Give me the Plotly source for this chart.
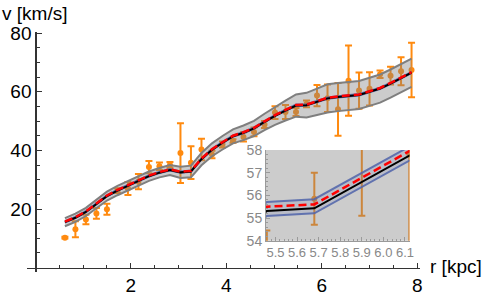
import plotly.graph_objects as go

# ---- data ----
r_kpc = [0.62, 0.84, 1.06, 1.28, 1.50, 1.72, 1.94, 2.16, 2.38, 2.60, 2.82, 3.04,
         3.26, 3.48, 3.70, 3.92, 4.14, 4.36, 4.58, 4.80, 5.02, 5.24, 5.46, 5.68,
         5.90, 6.12, 6.34, 6.56, 6.78, 7.00, 7.22, 7.44, 7.66, 7.88]

v_obs = [10.2, 13.1, 16.4, 18.5, 19.9, 26.3, 27.0, 29.3, 34.3, 34.6, 35.0, 39.1,
         35.8, 40.3, 38.6, 42.0, 43.2, 44.6, 46.3, 48.8, 52.9, 53.1, 53.1, 55.85,
         58.7, 57.8, 54.0, 63.8, 60.4, 61.0, 66.0, 65.5, 67.0, 67.4]

v_err = [0.3, 2.7, 1.6, 1.85, 1.9, 0.8, 2.2, 2.6, 2.1, 1.3, 1.0, 10.2,
         5.6, 3.7, 1.3, 1.0, 0.6, 1.6, 1.5, 1.2, 2.2, 2.4, 1.35, 1.15,
         3.6, 4.7, 9.0, 12.0, 6.2, 5.7, 1.3, 3.0, 4.8, 9.3]

# best-fit model (black)
v_model = [15.5, 17.0, 19.0, 21.8, 24.4, 26.3, 27.9, 29.7, 31.2, 32.4, 33.3, 32.5,
           32.8, 37.0, 40.2, 42.6, 44.8, 46.0, 47.5, 49.7, 51.8, 53.6, 55.31, 55.43,
           56.59, 57.75, 58.2, 58.5, 58.9, 60.0, 61.1, 62.8, 64.6, 66.5]

# second model (red dashed)
v_alt = [15.7, 17.2, 19.2, 22.0, 24.6, 26.5, 28.1, 29.9, 31.4, 32.6, 33.5, 32.7,
         33.0, 37.2, 40.4, 42.8, 45.0, 46.2, 47.7, 49.9, 52.0, 53.8, 55.50, 55.60,
         56.78, 57.95, 58.4, 58.7, 59.1, 60.2, 61.3, 63.0, 64.8, 66.7]

# narrow (blue) uncertainty band
v_blue_lo = [15.28, 16.78, 18.78, 21.58, 24.18, 26.08, 27.68, 29.48, 30.98, 32.18, 33.08, 32.28,
             32.58, 36.78, 39.98, 42.38, 44.58, 45.78, 47.28, 49.48, 51.58, 53.38, 55.09, 55.21,
             56.37, 57.53, 57.98, 58.28, 58.68, 59.78, 60.88, 62.58, 64.38, 66.28]
v_blue_hi = [15.9, 17.4, 19.4, 22.2, 24.8, 26.7, 28.3, 30.1, 31.6, 32.8, 33.7, 32.9,
             33.2, 37.4, 40.6, 43.0, 45.2, 46.4, 47.9, 50.1, 52.2, 54.0, 55.71, 55.83,
             56.99, 58.15, 58.6, 58.9, 59.3, 60.4, 61.5, 63.2, 65.0, 66.9]

# wide (gray) band half-width
v_gray_half = [1.4, 1.4, 1.4, 1.4, 1.5, 1.6, 1.6, 1.6, 1.6, 1.6, 1.7, 1.9,
               2.0, 2.1, 2.2, 2.3, 2.4, 2.5, 2.6, 2.8, 3.1, 3.4, 3.8, 4.2,
               4.5, 4.8, 4.8, 4.8, 4.8, 4.8, 4.8, 4.8, 4.8, 4.8]

x_ticks = [2, 4, 6, 8]
y_ticks = [20, 40, 60, 80]
x_label = "r [kpc]"
y_label = "v [km/s]"

ORANGE = "#ff8a0f"
FONT = "Liberation Sans"

gray_lo = [m - h for m, h in zip(v_model, v_gray_half)]
gray_hi = [m + h for m, h in zip(v_model, v_gray_half)]

fig = go.Figure()


def add_set(xa, ya, lw):
    fig.add_trace(go.Scatter(
        x=r_kpc, y=v_obs, mode="markers", xaxis=xa, yaxis=ya,
        marker=dict(color=ORANGE, size=6),
        error_y=dict(type="data", array=v_err, color=ORANGE, thickness=2, width=3.5),
        showlegend=False, hoverinfo="skip"))
    fig.add_trace(go.Scatter(
        x=r_kpc, y=gray_hi, mode="lines", xaxis=xa, yaxis=ya,
        line=dict(color="#7f7f7f", width=2), showlegend=False, hoverinfo="skip"))
    fig.add_trace(go.Scatter(
        x=r_kpc, y=gray_lo, mode="lines", xaxis=xa, yaxis=ya,
        line=dict(color="#7f7f7f", width=2), fill="tonexty",
        fillcolor="rgba(128,128,128,0.40)", showlegend=False, hoverinfo="skip"))
    fig.add_trace(go.Scatter(
        x=r_kpc, y=v_blue_hi, mode="lines", xaxis=xa, yaxis=ya,
        line=dict(color="rgba(80,100,170,0.85)", width=lw), showlegend=False, hoverinfo="skip"))
    fig.add_trace(go.Scatter(
        x=r_kpc, y=v_blue_lo, mode="lines", xaxis=xa, yaxis=ya,
        line=dict(color="rgba(80,100,170,0.85)", width=lw), fill="tonexty",
        fillcolor="rgba(90,110,180,0.15)", showlegend=False, hoverinfo="skip"))
    fig.add_trace(go.Scatter(
        x=r_kpc, y=v_model, mode="lines", xaxis=xa, yaxis=ya,
        line=dict(color="black", width=2), showlegend=False, hoverinfo="skip"))
    fig.add_trace(go.Scatter(
        x=r_kpc, y=v_alt, mode="lines", xaxis=xa, yaxis=ya,
        line=dict(color="#ff0000", width=2.5, dash="8px,4px"), showlegend=False, hoverinfo="skip"))


add_set("x", "y", 1.5)
add_set("x2", "y2", 2)

xr = [-0.174, 8.057]
yr = [-1.5, 80.4]
AX = "#333333"

fig.update_layout(
    template="none",
    width=485, height=296,
    margin=dict(l=27, r=65, t=32, b=24, autoexpand=False),
    paper_bgcolor="white", plot_bgcolor="white",
    font=dict(family=FONT, size=19, color="black"),
    hovermode=False,
    xaxis=dict(domain=[0, 1], range=xr, anchor="free", automargin=False,
               position=(0 - yr[0]) / (yr[1] - yr[0]),
               showline=True, linecolor=AX, linewidth=1.3,
               ticks="inside", ticklen=5, tickwidth=1, tickcolor=AX,
               tickmode="array", tickvals=x_ticks,
               minor=dict(tickmode="array",
                          tickvals=[0.5, 1, 1.5, 2.5, 3, 3.5, 4.5, 5, 5.5, 6.5, 7, 7.5],
                          ticks="inside", ticklen=3, tickcolor=AX, showgrid=False),
               showgrid=False, zeroline=False, tickfont=dict(size=19)),
    yaxis=dict(domain=[0, 1], range=yr, anchor="free", automargin=False,
               position=(0 - xr[0]) / (xr[1] - xr[0]),
               showline=True, linecolor=AX, linewidth=1.3,
               ticks="inside", ticklen=5, tickwidth=1, tickcolor=AX,
               tickmode="array", tickvals=y_ticks,
               minor=dict(tickmode="array",
                          tickvals=[5, 10, 15, 25, 30, 35, 45, 50, 55, 65, 70, 75],
                          ticks="inside", ticklen=3, tickcolor=AX, showgrid=False),
               showgrid=False, zeroline=False, tickfont=dict(size=19)),
    xaxis2=dict(domain=[0.6081, 0.9733], anchor="y2", range=[5.456, 6.121],
                automargin=False, tickangle=0,
                showline=True, linecolor="#9a9a9a", linewidth=1,
                ticks="inside", ticklen=4, tickcolor="#9a9a9a",
                tickmode="linear", tick0=5.5, dtick=0.1, tickformat=".1f",
                minor=dict(tickmode="linear", tick0=5.5, dtick=0.02, ticks="inside",
                           ticklen=2, tickcolor="#9a9a9a", showgrid=False),
                showgrid=False, zeroline=False,
                tickfont=dict(size=13, color="#888888")),
    yaxis2=dict(domain=[0.1304, 0.5083], anchor="x2", range=[54, 58],
                automargin=False,
                showline=True, linecolor="#9a9a9a", linewidth=1,
                ticks="inside", ticklen=4, tickcolor="#9a9a9a",
                tickmode="linear", tick0=54, dtick=1,
                minor=dict(tickmode="linear", tick0=54, dtick=0.2, ticks="inside",
                           ticklen=2, tickcolor="#9a9a9a", showgrid=False),
                showgrid=False, zeroline=False,
                tickfont=dict(size=14, color="#888888")),
    annotations=[
        dict(text=y_label, xref="paper", yref="paper", x=-0.0687, y=1.079,
             xanchor="left", yanchor="middle", showarrow=False,
             font=dict(size=19, family=FONT, color="black")),
        dict(text=x_label, xref="paper", yref="paper", x=1.1628, y=0.025,
             xanchor="right", yanchor="middle", showarrow=False,
             font=dict(size=19, family=FONT, color="black")),
    ],
)

fig.write_html("out.html",
               config={"displayModeBar": False, "staticPlot": True},
               post_script="document.body.style.margin='0';document.body.style.padding='0';")
